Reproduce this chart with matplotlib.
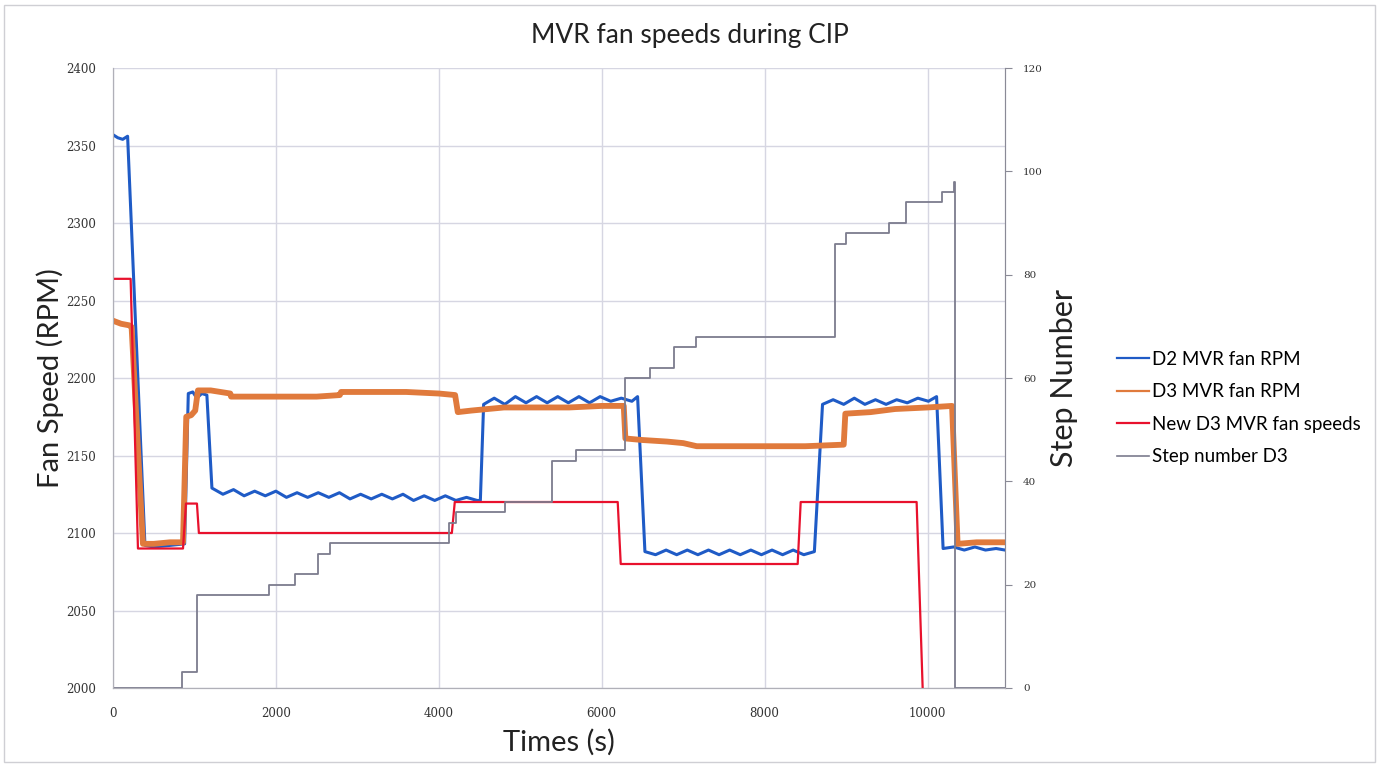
import matplotlib
matplotlib.use("Agg")
import matplotlib.pyplot as plt
from matplotlib.lines import Line2D
from matplotlib.patches import Rectangle


# ====================== DATA ======================

# D2 MVR fan RPM
d2_t = [0, 60, 120, 180, 393, 500, 700, 880, 925, 980, 1030, 1090, 1153, 1215,
        1350, 1480, 1610, 1740, 1870, 2000, 2130, 2260, 2390, 2520, 2650, 2780,
        2910, 3040, 3170, 3300, 3430, 3560, 3690, 3820, 3950, 4080, 4210, 4340,
        4470, 4510, 4550, 4680, 4810, 4940, 5070, 5200, 5330, 5460, 5590, 5720,
        5850, 5980, 6110, 6240, 6370, 6440, 6530, 6660, 6790, 6920, 7050, 7180,
        7310, 7440, 7570, 7700, 7830, 7960, 8090, 8220, 8350, 8480, 8610, 8710,
        8840, 8970, 9100, 9230, 9360, 9490, 9620, 9750, 9880, 10010, 10110, 10190,
        10320, 10450, 10580, 10710, 10840, 10950]
d2_rpm = [2357, 2355, 2354, 2356, 2092, 2091, 2092, 2093, 2190, 2191, 2187, 2190, 2189, 2129,
          2125, 2128, 2124, 2127, 2124, 2127, 2123, 2126, 2123, 2126, 2123, 2126,
          2122, 2125, 2122, 2125, 2122, 2125, 2121, 2124, 2121, 2124, 2121, 2123,
          2121, 2121, 2183, 2187, 2183, 2188, 2184, 2188, 2184, 2188, 2184, 2188,
          2184, 2188, 2185, 2187, 2185, 2188, 2088, 2086, 2089, 2086, 2089, 2086,
          2089, 2086, 2089, 2086, 2089, 2086, 2089, 2086, 2089, 2086, 2088, 2183,
          2186, 2183, 2187, 2183, 2186, 2183, 2186, 2184, 2187, 2185, 2188, 2090,
          2091, 2089, 2091, 2089, 2090, 2089]

# D3 MVR fan RPM
d3_t = [0, 100, 200, 229, 368, 500, 700, 860, 900, 960, 1010, 1043, 1200, 1440,
        1450, 2000, 2500, 2785, 2800, 3200, 3600, 4000, 4200, 4233, 4400, 4800,
        5200, 5600, 6000, 6270, 6290, 6500, 6800, 7000, 7166, 7600, 8000, 8500,
        8970, 8990, 9300, 9600, 10000, 10300, 10368, 10600, 10950]
d3_rpm = [2237, 2235, 2234, 2233, 2093, 2093, 2094, 2094, 2175, 2176, 2179, 2192, 2192, 2190,
          2188, 2188, 2188, 2189, 2191, 2191, 2191, 2190, 2189, 2178, 2179, 2181,
          2181, 2181, 2182, 2182, 2161, 2160, 2159, 2158, 2156, 2156, 2156, 2156,
          2157, 2177, 2178, 2180, 2181, 2182, 2093, 2094, 2094]

# New D3 MVR fan speeds
new_t = [0, 217, 307, 860, 896, 1031, 1055, 4160, 4196, 6196, 6233, 8405, 8442, 9865, 9939]
new_rpm = [2264, 2264, 2090, 2090, 2119, 2119, 2100, 2100, 2120, 2120, 2080, 2080, 2120, 2120, 2000]

# Step number D3 (secondary axis)
step_t = [0, 847, 1031, 1914, 2233, 2515, 2663, 4123, 4217, 4810, 5395, 5690,
          6290, 6589, 6884, 7153, 8859, 8994, 9521, 9730, 10172, 10319, 10330, 10950]
step_no = [0, 3, 18, 20, 22, 26, 28, 32, 34, 36, 44, 46,
           60, 62, 66, 68, 86, 88, 90, 94, 96, 98, 0, 0]

rpm_ticks = [2000, 2050, 2100, 2150, 2200, 2250, 2300, 2350, 2400]
step_ticks = [0, 20, 40, 60, 80, 100, 120]
time_ticks = [0, 2000, 4000, 6000, 8000, 10000]


# ====================== PLOT ======================

BLUE = "#1f5bc6"
ORANGE = "#e07a3c"
RED = "#e8112d"
GREY = "#7c7c8e"
GRID = "#d6d6e2"
SANS = "Lato"
SERIF = "DejaVu Serif"

fig = plt.figure(figsize=(13.79, 7.67), dpi=100, facecolor="white")
ax = fig.add_axes([0.0819, 0.1030, 0.6469, 0.8083])
ax2 = ax.twinx()

ax.plot(d2_t, d2_rpm, color=BLUE, linewidth=2.2, zorder=3)
ax.plot(d3_t, d3_rpm, color=ORANGE, linewidth=4.2, zorder=4)
ax.plot(new_t, new_rpm, color=RED, linewidth=1.6, zorder=5)
ax2.plot(step_t, step_no, color=GREY, linewidth=1.3, drawstyle="steps-post")

ax.set_xlim(0, 10950)
ax.set_ylim(2000, 2400)
ax2.set_ylim(0, 120)

ax.set_xticks(time_ticks)
ax.set_yticks(rpm_ticks)
ax2.set_yticks(step_ticks)

ax.grid(True, color=GRID, linewidth=1.0)
ax.set_axisbelow(True)

ax.spines["top"].set_visible(False)
ax2.spines["top"].set_visible(False)
for spine in ["left", "bottom", "right"]:
    ax.spines[spine].set_color("#b0b0b8")
    ax2.spines[spine].set_color("#b0b0b8")
ax2.spines["right"].set_color("#8a8a96")

ax.tick_params(axis="both", length=0, labelsize=8.5, labelcolor="#333333")
ax.tick_params(axis="y", pad=12)
ax.tick_params(axis="x", pad=14)
ax2.tick_params(axis="y", length=5, color="#8a8a96", labelsize=7.5,
                labelcolor="#333333", pad=8)
for lab in ax.get_xticklabels() + ax.get_yticklabels() + ax2.get_yticklabels():
    lab.set_fontfamily(SERIF)

ax.set_xlabel("Times (s)", fontsize=21, family=SANS, color="#222222", labelpad=6)
ax.set_ylabel("Fan Speed (RPM)", fontsize=21, family=SANS, color="#222222", labelpad=2)
ax2.set_ylabel("Step Number", fontsize=22, family=SANS, color="#222222", labelpad=5)

fig.text(0.5, 1 - 36 / 767, "MVR fan speeds during CIP", ha="center", va="center",
         fontsize=19, family=SANS, color="#222222")

handles = [
    Line2D([0], [0], color=BLUE, linewidth=1.6, label="D2 MVR fan RPM"),
    Line2D([0], [0], color=ORANGE, linewidth=1.6, label="D3 MVR fan RPM"),
    Line2D([0], [0], color=RED, linewidth=1.6, label="New D3 MVR fan speeds"),
    Line2D([0], [0], color=GREY, linewidth=1.2, label="Step number D3"),
]
leg = fig.legend(handles=handles, loc="center left", bbox_to_anchor=(0.798, 0.468),
                 frameon=False, handlelength=1.7, handletextpad=0.15,
                 labelspacing=0.82, prop={"family": SANS, "size": 13.5})

# chart-area border
fig.patches.append(Rectangle((0.003, 0.006), 0.994, 0.988, transform=fig.transFigure,
                             fill=False, edgecolor="#cfcfd4", linewidth=1.0))

fig.savefig("out.png", dpi=100, facecolor="white")
